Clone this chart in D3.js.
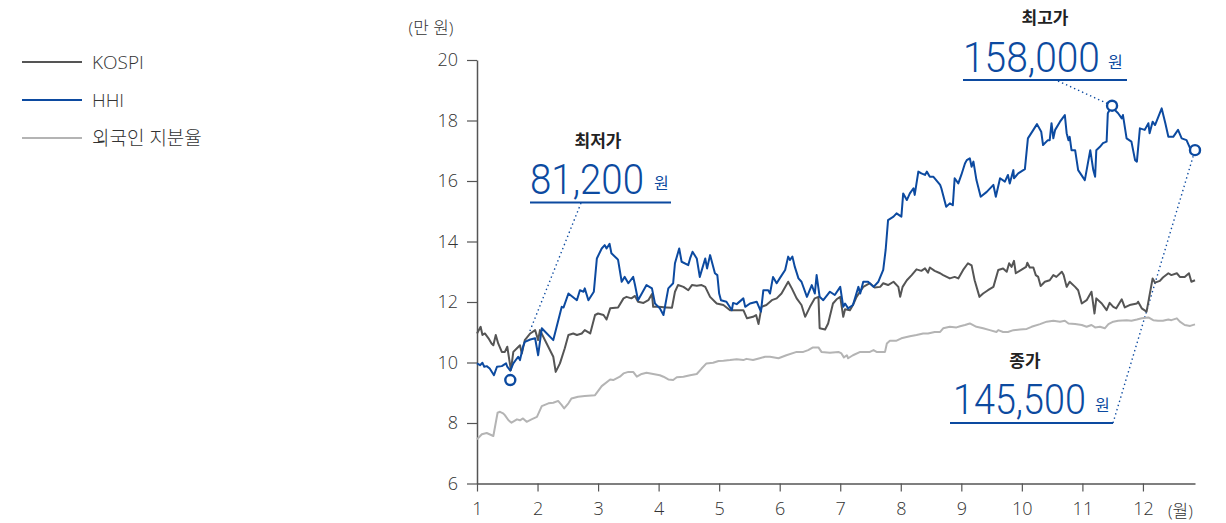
<!DOCTYPE html>
<html>
<head>
<meta charset="utf-8">
<script src="https://cdn.jsdelivr.net/npm/d3@7"></script>
<style>
  body { margin: 0; background: #fff; }
  svg { display: block; }
  text { font-family: "Open Sans", "Noto Sans CJK KR", sans-serif; }
</style>
</head>
<body>
<svg id="chart" width="1226" height="523"></svg>
<script>
// 월 (소수점 = 월 중 위치), 값 (만 원 축 기준)
const hhiMonth = [1.00,1.05,1.09,1.12,1.16,1.21,1.28,1.33,1.41,1.48,1.50,1.55,1.60,1.68,1.71,1.76,1.79,1.88,1.96,2.01,2.07,2.26,2.40,2.43,2.51,2.65,2.70,2.76,2.78,2.84,2.93,2.98,3.06,3.11,3.14,3.19,3.22,3.31,3.33,3.39,3.44,3.50,3.58,3.61,3.66,3.80,3.89,3.94,4.02,4.08,4.16,4.24,4.27,4.34,4.38,4.49,4.52,4.56,4.63,4.68,4.77,4.80,4.85,4.93,4.97,5.00,5.03,5.12,5.21,5.23,5.29,5.40,5.43,5.51,5.62,5.69,5.73,5.81,5.84,5.89,5.95,6.00,6.09,6.14,6.17,6.21,6.25,6.31,6.36,6.45,6.53,6.58,6.61,6.66,6.72,6.83,6.91,7.00,7.05,7.08,7.13,7.21,7.30,7.33,7.38,7.46,7.55,7.63,7.71,7.75,7.79,7.88,7.93,8.01,8.04,8.10,8.15,8.21,8.23,8.29,8.34,8.40,8.43,8.48,8.54,8.65,8.67,8.75,8.81,8.86,8.89,8.95,9.00,9.06,9.09,9.14,9.17,9.20,9.25,9.32,9.42,9.53,9.57,9.64,9.72,9.77,9.80,9.86,9.87,9.94,10.05,10.10,10.19,10.25,10.32,10.35,10.43,10.46,10.49,10.52,10.55,10.63,10.71,10.74,10.77,10.79,10.82,10.88,10.93,11.04,11.13,11.18,11.21,11.23,11.29,11.34,11.40,11.42,11.48,11.59,11.65,11.67,11.73,11.81,11.87,11.90,11.95,12.03,12.09,12.11,12.16,12.20,12.31,12.37,12.42,12.50,12.58,12.64,12.72,12.78,12.86];
const hhiValue = [9.97,9.91,9.99,9.86,9.88,9.80,9.58,9.86,9.88,9.97,9.86,9.73,9.97,10.19,10.08,10.52,10.68,10.76,10.80,10.24,11.13,10.74,11.84,11.82,12.28,12.06,12.39,12.34,12.45,12.06,12.34,13.44,13.77,13.88,13.77,13.92,13.61,13.44,13.39,12.67,12.83,12.62,12.83,12.56,12.06,12.56,12.45,11.95,11.79,11.57,12.45,12.62,13.28,13.77,13.33,13.22,13.44,13.66,13.44,12.83,13.44,13.11,13.55,12.95,12.89,12.28,12.06,12.01,11.73,11.97,11.93,12.12,11.84,11.95,12.01,11.68,12.39,12.39,12.28,12.83,12.62,12.78,13.06,13.50,13.39,13.50,13.16,12.78,12.67,12.17,12.56,12.28,12.89,12.17,12.06,12.34,12.23,12.50,11.84,11.95,11.79,11.90,12.50,12.28,12.67,12.67,12.50,12.67,13.06,13.72,14.71,14.82,14.93,14.82,15.59,15.37,15.59,15.76,15.54,16.31,16.25,16.20,16.31,16.14,16.14,15.87,15.76,15.15,15.26,15.20,16.09,15.92,16.20,16.58,16.69,16.75,16.47,16.64,16.03,15.48,15.64,15.87,15.48,16.09,15.98,16.20,15.92,16.36,16.09,16.25,16.39,17.41,17.69,17.88,17.63,17.19,17.35,17.35,17.91,17.41,17.69,17.96,18.18,17.58,17.35,17.46,17.02,17.02,16.36,16.03,17.02,16.36,16.14,17.02,17.13,17.25,17.30,18.24,18.46,18.24,18.07,18.18,17.41,17.30,16.69,16.64,17.74,17.69,17.91,17.58,17.96,17.85,18.40,17.91,17.46,17.46,17.69,17.41,17.35,17.08,17.02];

const kospiMonth = [1.00,1.06,1.09,1.13,1.19,1.24,1.27,1.31,1.35,1.41,1.46,1.50,1.56,1.60,1.66,1.71,1.74,1.79,1.88,1.96,2.01,2.04,2.15,2.26,2.30,2.37,2.45,2.51,2.59,2.65,2.73,2.78,2.87,2.95,3.00,3.09,3.14,3.20,3.33,3.42,3.47,3.55,3.61,3.66,3.75,3.83,3.89,3.91,4.00,4.13,4.22,4.27,4.32,4.41,4.49,4.55,4.63,4.71,4.77,4.85,4.93,4.96,5.07,5.18,5.29,5.40,5.46,5.56,5.61,5.65,5.70,5.78,5.87,5.95,6.03,6.14,6.20,6.28,6.36,6.42,6.50,6.58,6.64,6.66,6.75,6.80,6.88,6.94,7.00,7.05,7.08,7.16,7.21,7.27,7.38,7.49,7.57,7.66,7.71,7.79,7.88,7.96,7.99,8.03,8.10,8.18,8.26,8.34,8.40,8.45,8.48,8.56,8.65,8.70,8.81,8.89,8.95,9.03,9.11,9.17,9.22,9.30,9.36,9.44,9.53,9.61,9.69,9.75,9.79,9.83,9.87,9.90,9.99,10.07,10.09,10.13,10.19,10.23,10.27,10.31,10.38,10.46,10.52,10.57,10.66,10.69,10.74,10.79,10.88,10.93,10.99,11.07,11.15,11.20,11.23,11.32,11.40,11.45,11.51,11.56,11.65,11.70,11.78,11.90,11.92,11.98,12.06,12.10,12.16,12.20,12.28,12.33,12.42,12.47,12.56,12.61,12.69,12.76,12.80,12.86];
const kospiValue = [10.96,11.18,10.91,10.96,10.80,10.63,10.57,10.91,10.63,10.35,10.35,10.52,9.75,10.35,10.47,10.57,10.30,10.74,10.96,11.07,10.74,11.07,10.63,10.19,9.69,9.97,10.47,10.91,10.96,10.91,10.96,11.07,10.96,11.57,11.62,11.57,11.42,11.79,11.82,12.12,12.17,12.12,12.20,12.01,11.97,12.06,12.26,11.84,11.84,11.82,11.81,12.34,12.56,12.50,12.39,12.56,12.54,12.56,12.50,12.17,12.01,11.95,11.90,11.73,11.73,11.73,11.46,11.51,11.57,11.27,11.84,11.90,12.06,12.12,12.28,12.67,12.45,12.12,11.90,11.51,11.84,12.12,12.17,11.13,11.09,11.29,11.95,12.09,12.17,11.51,11.76,11.73,11.90,12.17,12.50,12.62,12.48,12.50,12.62,12.56,12.67,12.50,12.17,12.50,12.72,12.89,13.08,13.03,13.11,12.97,13.14,13.03,12.95,12.89,12.78,12.83,12.78,13.06,13.28,13.21,12.72,12.17,12.28,12.39,12.50,13.06,13.11,13.00,13.28,13.16,13.36,12.95,13.06,13.16,13.30,13.14,13.14,12.89,12.83,12.53,12.67,12.72,12.89,12.83,13.00,12.89,12.50,12.67,12.50,12.39,11.95,12.06,12.34,11.62,12.12,11.95,11.73,11.97,11.84,11.79,12.09,11.82,11.90,11.95,12.01,11.79,11.68,12.12,12.78,12.64,12.70,12.81,12.95,12.89,12.95,12.83,12.83,12.95,12.67,12.72];

const foreignMonth = [1.00,1.08,1.16,1.27,1.34,1.38,1.43,1.46,1.52,1.57,1.66,1.71,1.76,1.82,1.90,1.99,2.07,2.18,2.26,2.34,2.40,2.44,2.51,2.56,2.67,2.78,2.95,3.06,3.20,3.25,3.36,3.42,3.50,3.58,3.64,3.72,3.80,3.91,4.02,4.08,4.16,4.24,4.30,4.41,4.52,4.63,4.71,4.79,4.90,4.99,5.07,5.18,5.29,5.40,5.45,5.56,5.67,5.76,5.84,5.98,6.11,6.28,6.39,6.47,6.55,6.64,6.69,6.83,6.97,7.02,7.06,7.11,7.13,7.21,7.33,7.49,7.55,7.60,7.74,7.77,7.82,7.93,8.01,8.15,8.26,8.37,8.45,8.56,8.65,8.70,8.81,8.92,8.98,9.06,9.14,9.25,9.36,9.47,9.58,9.61,9.69,9.77,9.86,9.97,10.08,10.16,10.30,10.41,10.52,10.63,10.71,10.77,10.88,10.99,11.07,11.15,11.21,11.29,11.37,11.43,11.51,11.59,11.73,11.81,11.90,11.98,12.09,12.17,12.25,12.33,12.42,12.47,12.56,12.61,12.69,12.78,12.86];
const foreignValue = [7.46,7.63,7.67,7.57,8.34,8.37,8.32,8.26,8.09,8.01,8.12,8.09,8.15,8.04,8.12,8.20,8.56,8.65,8.67,8.73,8.59,8.48,8.65,8.81,8.87,8.89,8.92,9.22,9.44,9.42,9.53,9.64,9.69,9.69,9.53,9.62,9.66,9.62,9.58,9.53,9.44,9.42,9.51,9.53,9.58,9.62,9.80,9.97,9.99,10.05,10.06,10.08,10.11,10.08,10.12,10.08,10.14,10.19,10.19,10.14,10.24,10.35,10.35,10.41,10.50,10.50,10.35,10.32,10.35,10.30,10.17,10.24,10.14,10.24,10.35,10.35,10.41,10.35,10.35,10.63,10.72,10.72,10.80,10.87,10.91,10.96,10.96,11.01,11.01,11.13,11.18,11.16,11.20,11.24,11.29,11.18,11.13,11.07,11.01,11.07,11.01,11.01,11.07,11.09,11.11,11.18,11.27,11.35,11.38,11.35,11.38,11.29,11.27,11.24,11.18,11.24,11.16,11.18,11.13,11.27,11.35,11.38,11.40,11.38,11.42,11.46,11.49,11.40,11.38,11.38,11.42,11.40,11.46,11.35,11.24,11.21,11.26];

// 주석 원 (최저가, 최고가, 종가)
const markMonth = [1.55, 11.49, 12.86];
const markValue = [9.42, 18.49, 17.02];
const markTitle = ['최저가', '최고가', '종가'];
const markPrice = ['81,200', '158,000', '145,500'];

const yTicks = [6, 8, 10, 12, 14, 16, 18, 20];
const xTicks = [1, 2, 3, 4, 5, 6, 7, 8, 9, 10, 11, 12];

const seriesNames = ['KOSPI', 'HHI', '외국인 지분율'];
const seriesColors = ['#555555', '#0c4aa0', '#b4b4b4'];

const svg = d3.select('#chart');
const blue = seriesColors[1];

const x = d3.scaleLinear().domain([1, 12.86]).range([477, 1195]);
const y = d3.scaleLinear().domain([6, 20]).range([483.5, 60]);

// 축
const yAxis = d3.axisLeft(y).tickValues(yTicks).tickSize(10).tickSizeOuter(0).tickPadding(9);
const gy = svg.append('g').attr('transform', 'translate(477,0)').call(yAxis);
const xAxis = d3.axisBottom(x).tickValues(xTicks).tickSize(8).tickSizeOuter(0).tickPadding(11);
const gx = svg.append('g').attr('transform', 'translate(0,483.5)').call(xAxis);

[gx, gy].forEach(g => {
    g.select('.domain').attr('stroke', '#555').attr('stroke-width', 1.5);
    g.selectAll('.tick line').attr('stroke', '#555').attr('stroke-width', 1.2);
    g.selectAll('.tick text')
        .attr('fill', '#333')
        .style('font-size', '18px')
        .style('font-weight', 300)
        .style('font-family', '"Open Sans", "Noto Sans CJK KR", sans-serif');
});

svg.append('text').attr('x', 431).attr('y', 34).attr('text-anchor', 'middle')
    .attr('fill', '#333').style('font-size', '17px').style('font-weight', 300)
    .text('(만 원)');
svg.append('text').attr('x', 1168).attr('y', 517)
    .attr('fill', '#333').style('font-size', '17px').style('font-weight', 300)
    .text('(월)');

// 점선 (지시선) - 선 아래에 그림
const leader = svg.append('g')
    .attr('fill', 'none')
    .attr('stroke', blue)
    .attr('stroke-width', 1.4)
    .attr('stroke-dasharray', '1.4,3');

leader.append('line')
    .attr('x1', 581).attr('y1', 203)
    .attr('x2', 581 + (x(markMonth[0]) - 581) * 0.73)
    .attr('y2', 203 + (y(markValue[0]) - 203) * 0.73);
leader.append('line')
    .attr('x1', 1058).attr('y1', 81)
    .attr('x2', x(markMonth[1])).attr('y2', y(markValue[1]));
leader.append('line')
    .attr('x1', 1113).attr('y1', 423)
    .attr('x2', x(markMonth[2])).attr('y2', y(markValue[2]));

// 선 그래프
const line = d3.line().x(d => x(d[0])).y(d => y(d[1]));
const series = [
    { name: 'foreign', data: d3.zip(foreignMonth, foreignValue), color: seriesColors[2] },
    { name: 'kospi', data: d3.zip(kospiMonth, kospiValue), color: seriesColors[0] },
    { name: 'hhi', data: d3.zip(hhiMonth, hhiValue), color: seriesColors[1] }
];

svg.append('g').selectAll('path')
    .data(series)
    .enter().append('path')
    .attr('d', d => line(d.data))
    .attr('fill', 'none')
    .attr('stroke', d => d.color)
    .attr('stroke-width', 2)
    .attr('stroke-linejoin', 'round');

// 표시 원
svg.append('g').selectAll('circle')
    .data(d3.zip(markMonth, markValue))
    .enter().append('circle')
    .attr('cx', d => x(d[0]))
    .attr('cy', d => y(d[1]))
    .attr('r', 5)
    .attr('fill', '#fff')
    .attr('stroke', blue)
    .attr('stroke-width', 2.4);

// 주석 라벨
const labelLayout = [
    { title: [598, 147], num: [530, 194], numW: 114, won: [654, 189], ul: [530, 671, 202.5] },
    { title: [1045, 24], num: [963, 72], numW: 137, won: [1108, 68], ul: [963, 1127, 80] },
    { title: [1025, 367], num: [953, 414], numW: 133, won: [1095, 411], ul: [950, 1113, 423] }
];

labelLayout.forEach((p, i) => {
    svg.append('text')
        .attr('x', p.title[0]).attr('y', p.title[1])
        .attr('text-anchor', 'middle')
        .attr('fill', '#222')
        .style('font-family', '"Noto Sans CJK KR", sans-serif')
        .style('font-size', '17px').style('font-weight', 700)
        .text(markTitle[i]);
    // 숫자는 좁은 글꼴처럼 보이도록 가로로 눌러줌
    const num = svg.append('text')
        .attr('fill', blue)
        .style('font-family', 'Roboto, sans-serif')
        .style('font-size', '43px').style('font-weight', 300)
        .text(markPrice[i]);
    const sx = p.numW / num.node().getComputedTextLength();
    num.attr('transform', `translate(${p.num[0]},${p.num[1]}) scale(${sx},1)`);
    svg.append('text')
        .attr('x', p.won[0]).attr('y', p.won[1])
        .attr('fill', blue)
        .style('font-family', '"Noto Sans CJK KR", sans-serif')
        .style('font-size', '16px')
        .text('원');
    svg.append('line')
        .attr('x1', p.ul[0]).attr('x2', p.ul[1])
        .attr('y1', p.ul[2]).attr('y2', p.ul[2])
        .attr('stroke', blue).attr('stroke-width', 2);
});

// 범례
const legend = svg.append('g').attr('transform', 'translate(22,62)');
const legendItem = legend.selectAll('g')
    .data(seriesNames)
    .enter().append('g')
    .attr('transform', (d, i) => `translate(0,${i * 38})`);
legendItem.append('line')
    .attr('x1', 0).attr('x2', 60)
    .attr('stroke', (d, i) => seriesColors[i])
    .attr('stroke-width', 2);
legendItem.append('text')
    .attr('x', 70).attr('y', 7)
    .attr('fill', '#333')
    .style('font-size', '19px').style('font-weight', 300)
    .text(d => d);
</script>
</body>
</html>
